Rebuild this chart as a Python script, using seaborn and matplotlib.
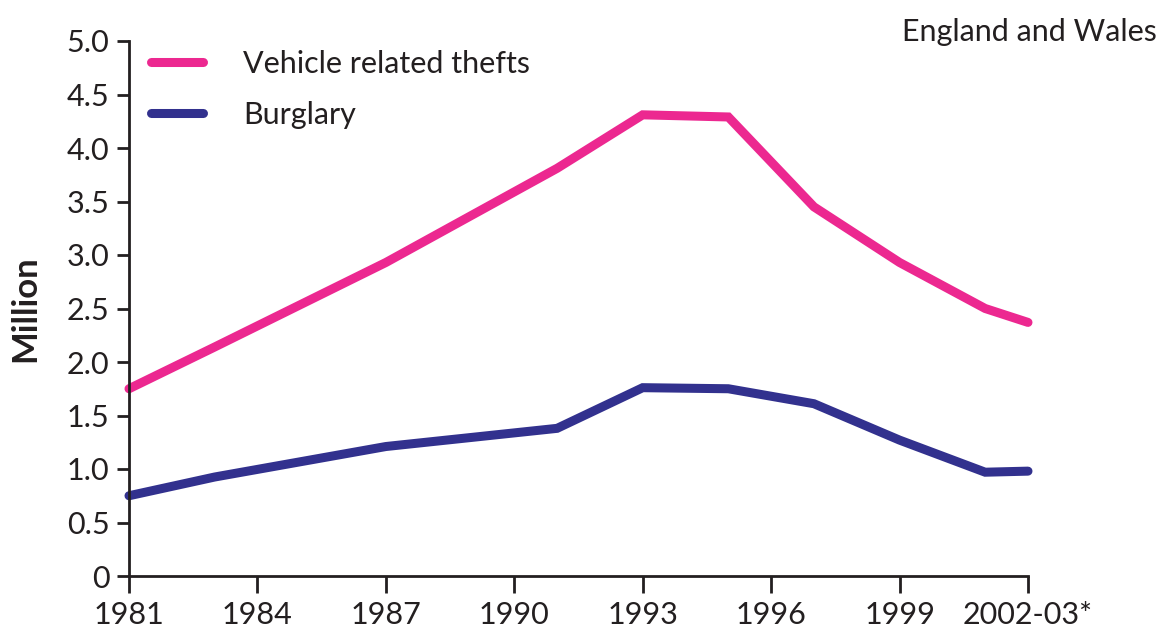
import matplotlib
matplotlib.use("Agg")
import matplotlib.pyplot as plt
import seaborn as sns
import pandas as pd

years = [1981, 1983, 1987, 1991, 1993, 1995, 1997, 1999, 2001, 2002]
vehicle = [1.75, 2.14, 2.93, 3.81, 4.31, 4.29, 3.45, 2.93, 2.50, 2.37]
burglary = [0.75, 0.925, 1.21, 1.38, 1.76, 1.75, 1.61, 1.27, 0.97, 0.98]
series_names = ["Vehicle related thefts", "Burglary"]
xtick_pos = [1981, 1984, 1987, 1990, 1993, 1996, 1999, 2002]
xtick_labels = ["1981", "1984", "1987", "1990", "1993", "1996", "1999", "2002-03*"]
ytick_vals = [0, 0.5, 1.0, 1.5, 2.0, 2.5, 3.0, 3.5, 4.0, 4.5, 5.0]
ytick_labels = ["0", "0.5", "1.0", "1.5", "2.0", "2.5", "3.0", "3.5", "4.0", "4.5", "5.0"]
colors = ["#EC2890", "#32318E"]

df = pd.DataFrame({
    "year": years * 2,
    "value": vehicle + burglary,
    "series": [series_names[0]] * len(years) + [series_names[1]] * len(years),
})

sns.set_style("white")
plt.rcParams["font.family"] = ["Lato", "DejaVu Sans"]

TXT = "#231F20"
FS = 22

fig = plt.figure(figsize=(11.67, 6.31), dpi=100)
ax = fig.add_axes([129 / 1167, 55 / 631, (1028 - 129) / 1167, (576 - 41) / 631])

sns.lineplot(data=df, x="year", y="value", hue="series", palette=colors,
             linewidth=6.5, ax=ax, legend=True)
for ln in ax.lines:
    ln.set_solid_capstyle("round")
    ln.set_solid_joinstyle("miter")
    ln.set_clip_on(False)

ax.set_xlim(1981, 2002)
ax.set_ylim(0, 5)
ax.set_xticks(xtick_pos)
ax.set_xticklabels(xtick_labels, fontsize=FS, color=TXT)
ax.set_yticks(ytick_vals)
ax.set_yticklabels(ytick_labels, fontsize=FS, color=TXT)
ax.tick_params(axis="y", direction="out", length=9, width=2, color=TXT, pad=5, left=True)
ax.tick_params(axis="x", direction="out", length=12, width=2, color=TXT, pad=6, bottom=True)
for s in ["top", "right"]:
    ax.spines[s].set_visible(False)
for s in ["left", "bottom"]:
    ax.spines[s].set_color(TXT)
    ax.spines[s].set_linewidth(2)
ax.set_xlabel("")
ax.set_ylabel("Million", fontsize=25, fontweight="bold", color=TXT, labelpad=18)

leg = ax.legend(loc="upper left", bbox_to_anchor=(-0.006, 1.035), frameon=False,
                fontsize=FS, handlelength=1.7, handletextpad=1.3, labelspacing=0.75)
for h in leg.get_lines():
    h.set_linewidth(6.5)
    h.set_solid_capstyle("round")
for t in leg.get_texts():
    t.set_color(TXT)

fig.text(1157 / 1167, 1 - 32 / 631, "England and Wales", ha="right", va="center",
         fontsize=FS, color=TXT)

fig.savefig("out.png", dpi=100, facecolor="white")
